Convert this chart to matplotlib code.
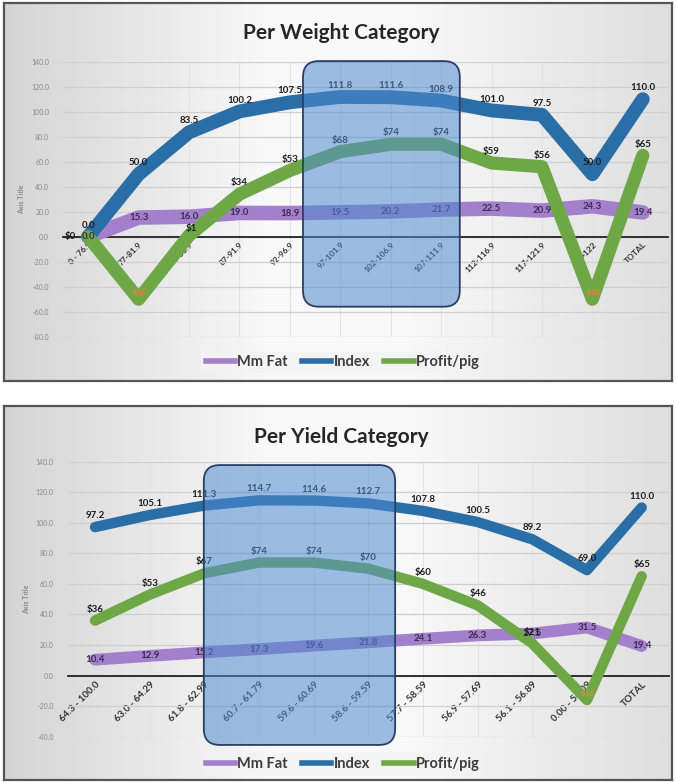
import numpy as np
import matplotlib
matplotlib.use("Agg")
import matplotlib.pyplot as plt
from matplotlib.patches import FancyBboxPatch
from matplotlib.lines import Line2D

plt.rcParams['font.family'] = ['Lato', 'DejaVu Sans']

# ---- data: per weight category
weight_cats = ["0 - 76.9", "77-81.9", "82-86.9", "87-91.9", "92-96.9", "97-101.9",
               "102-106.9", "107-111.9", "112-116.9", "117-121.9", ">122", "TOTAL"]
w_fat = [0.0, 15.3, 16.0, 19.0, 18.9, 19.5, 20.2, 21.7, 22.5, 20.9, 24.3, 19.4]
w_index = [0.0, 50.0, 83.5, 100.2, 107.5, 111.8, 111.6, 108.9, 101.0, 97.5, 50.0, 110.0]
w_profit = [0, -50, 1, 34, 53, 68, 74, 74, 59, 56, -50, 65]
w_ticks = [-80, -60, -40, -20, 0, 20, 40, 60, 80, 100, 120, 140]

# ---- data: per yield category
yield_cats = ["64.3 - 100.0", "63.0 - 64.29", "61.8 - 62.99", "60.7 - 61.79", "59.6 - 60.69",
              "58.6 - 59.59", "57.7 - 58.59", "56.9 - 57.69", "56.1 - 56.89", "0.00 - 56.09", "TOTAL"]
y_fat = [10.4, 12.9, 15.2, 17.3, 19.6, 21.8, 24.1, 26.3, 27.5, 31.5, 19.4]
y_index = [97.2, 105.1, 111.3, 114.7, 114.6, 112.7, 107.8, 100.5, 89.2, 69.0, 110.0]
y_profit = [36, 53, 67, 74, 74, 70, 60, 46, 21, -16, 65]
y_ticks = [-40, -20, 0, 20, 40, 60, 80, 100, 120, 140]

PURPLE = '#a47fcb'
BLUE = '#2a6ea8'
GREEN = '#6ea846'

W, H = 676, 782
fig = plt.figure(figsize=(W / 100, H / 100), dpi=100)
fig.patch.set_facecolor('white')


def fr(x0, y0, x1, y1):
    # pixel box (top-left origin) -> figure fraction rect
    return [x0 / W, 1 - y1 / H, (x1 - x0) / W, (y1 - y0) / H]


def panel(box):
    bg = fig.add_axes(fr(*box), zorder=0)
    g = np.concatenate([np.linspace(0.83, 0.97, 40), np.linspace(0.97, 0.97, 20),
                        np.linspace(0.97, 0.87, 40)])
    img = np.tile(g, (10, 1))
    bg.imshow(img, cmap='gray', vmin=0, vmax=1, aspect='auto', extent=(0, 1, 0, 1))
    bg.set_xticks([]); bg.set_yticks([])
    for s in bg.spines.values():
        s.set_color('#555555'); s.set_linewidth(1.6)


def rounded_box(ax, x0, x1, y0, y1, r_px):
    bb = ax.get_position()
    w_px = bb.width * W
    h_px = bb.height * H
    xl, yl = ax.get_xlim(), ax.get_ylim()
    xu = (xl[1] - xl[0]) / w_px
    yu = (yl[1] - yl[0]) / h_px
    style = f"round,pad=0,rounding_size={r_px * xu}"
    ax.add_patch(FancyBboxPatch((x0, y0), x1 - x0, y1 - y0, boxstyle=style,
                                mutation_aspect=yu / xu, transform=ax.transData,
                                facecolor='#4f8bd0', alpha=0.55, edgecolor='none',
                                zorder=10, clip_on=False))
    ax.add_patch(FancyBboxPatch((x0, y0), x1 - x0, y1 - y0, boxstyle=style,
                                mutation_aspect=yu / xu, transform=ax.transData,
                                facecolor='none', edgecolor='#2b3f63', lw=1.3,
                                zorder=11, clip_on=False))


def chart(rect, cats, fat, index, profit, ticks, lw, lab_fs, tick_fs, box, off):
    ax = fig.add_axes(rect, zorder=2)
    ax.set_facecolor('none')
    x = np.arange(len(cats))
    ax.set_xlim(-0.5, len(cats) - 0.5)
    ax.set_ylim(ticks[0], ticks[-1])
    ax.set_yticks(ticks)
    ax.set_yticklabels([f"{t:.1f}" for t in ticks], fontsize=5, color='#8a8a8a')
    ax.tick_params(axis='y', length=0, pad=10)
    ax.grid(axis='y', color='#cfcfcf', lw=0.9)
    for xi in x:
        ax.axvline(xi, color='#e2e2e2', lw=0.7, zorder=0)
    ax.set_axisbelow(True)
    for s in ['top', 'right', 'left']:
        ax.spines[s].set_visible(False)
    ax.spines['bottom'].set_position(('data', 0))
    ax.spines['bottom'].set_color('#222222')
    ax.spines['bottom'].set_linewidth(1.3)
    ax.spines['bottom'].set_zorder(1)
    ax.set_xticks(x)
    ax.set_xticklabels(cats, rotation=45, ha='right', rotation_mode='anchor',
                       fontsize=tick_fs, fontweight='bold', color='#333333')
    ax.tick_params(axis='x', length=0, pad=3)
    ax.set_ylabel('Axis Title', fontsize=5, color='#8a8a8a', fontweight='bold', labelpad=4)

    kw = dict(solid_capstyle='round', solid_joinstyle='round')
    ax.plot(x, fat, color=PURPLE, lw=lw[0], zorder=3, **kw)
    ax.plot(x, index, color=BLUE, lw=lw[1], zorder=4, **kw)
    ax.plot(x, profit, color=GREEN, lw=lw[2], zorder=5, **kw)

    tk = dict(fontsize=lab_fs, fontweight='bold', textcoords='offset points', zorder=8)
    for xi, v in zip(x, fat):
        ax.annotate(f"{v:.1f}", (xi, v), xytext=(0, 0), ha='center', va='center',
                    color='#3a2d55', **tk)
    for xi, v in zip(x, index):
        ax.annotate(f"{v:.1f}", (xi, v), xytext=(0, off), ha='center', va='bottom',
                    color='#1e1e1e', **tk)
    for xi, v in zip(x, profit):
        if v < 0:
            ax.annotate(f"-${-v}", (xi, v), xytext=(0, 5), va='center', color='#e8823a',
                        fontsize=lab_fs - 1.5, fontweight='bold', ha='center',
                        textcoords='offset points', zorder=8)
        elif v == 0:
            # zero profit label pushed to the left of the crowded first point
            ax.annotate(f"${v}", (xi, v), xytext=(-9, 0), ha='right', va='center',
                        color='#1e1e1e', **tk)
        elif v < 5:
            ax.annotate(f"${v}", (xi, v), xytext=(2, 2), ha='center', va='bottom',
                        color='#1e1e1e', **tk)
        else:
            ax.annotate(f"${v}", (xi, v), xytext=(0, off), ha='center', va='bottom',
                        color='#1e1e1e', **tk)

    rounded_box(ax, *box, 16)
    return ax


# top panel
panel((4, 3, 672, 381))
fig.text(0.505, 1 - 33 / H, 'Per Weight Category', ha='center', va='center',
         fontsize=15, fontweight='bold', color='#262626')
chart(fr(63, 61.7, 668, 336.7), weight_cats, w_fat, w_index, w_profit, w_ticks,
      (10.5, 10, 9.5), 7, 6, (4.26, 7.37, -56, 140.5), 5)

# bottom panel
panel((4, 406, 672, 780))
fig.text(0.505, 1 - 437 / H, 'Per Yield Category', ha='center', va='center',
         fontsize=15, fontweight='bold', color='#262626')
chart(fr(67.7, 461.7, 669, 736.7), yield_cats, y_fat, y_index, y_profit, y_ticks,
      (8.5, 7.5, 7.5), 7, 7, (1.99, 5.49, -45.4, 137.8), 5)

handles = [Line2D([], [], color=PURPLE, lw=4), Line2D([], [], color=BLUE, lw=4),
           Line2D([], [], color=GREEN, lw=4)]
names = ['Mm Fat', 'Index', 'Profit/pig']
for yc in (362, 764):
    leg = fig.legend(handles, names, loc='center', bbox_to_anchor=(0.507, 1 - yc / H),
                     ncol=3, frameon=True, fancybox=False, handlelength=2.0,
                     handletextpad=0.15, columnspacing=1.0, borderpad=0.3,
                     prop={'size': 10.5, 'weight': 'bold'})
    leg.get_frame().set_facecolor('#f3f3f3')
    leg.get_frame().set_edgecolor('none')
    for t in leg.get_texts():
        t.set_color('#3c3c3c')
    leg.set_zorder(20)

fig.savefig('out.png', dpi=100)
